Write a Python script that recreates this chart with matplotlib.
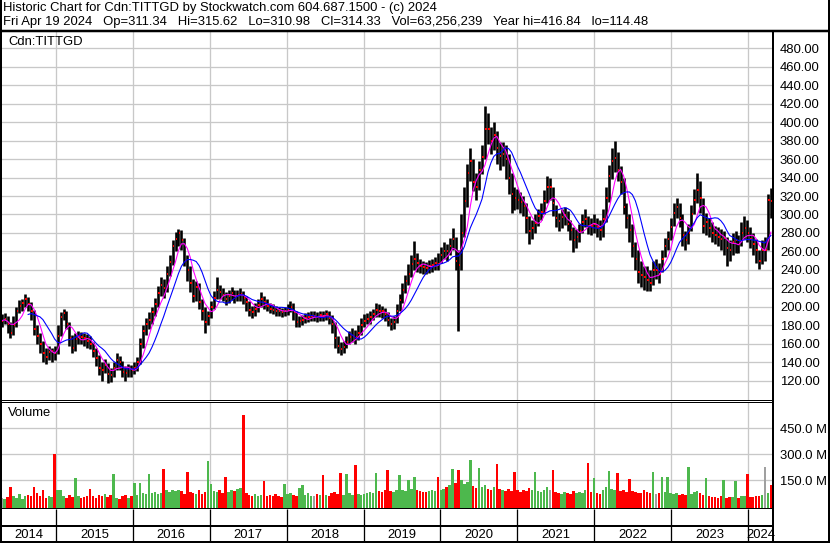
import matplotlib
matplotlib.use('Agg')
import matplotlib.pyplot as plt
import matplotlib.dates as mdates
from matplotlib.lines import Line2D
import numpy as np
import pandas as pd

plt.rcParams['font.family'] = ['Liberation Sans', 'DejaVu Sans']

# bi-weekly bars, last one ends Fri Apr 19 2024
dates = pd.date_range(end='2024-04-19', periods=262, freq='14D')

close = [185, 187, 181, 172, 180, 196, 201, 204, 209, 203,
         195, 176, 168, 160, 150, 146, 151, 152, 150, 168,
         189, 193, 182, 166, 156, 165, 168, 167, 166, 163,
         160, 152, 145, 134, 132, 137, 127, 126, 134, 142,
         140, 130, 128, 133, 132, 134, 140, 160, 174, 182,
         186, 194, 203, 215, 224, 220, 236, 249, 266, 274,
         280, 272, 250, 240, 226, 212, 222, 205, 195, 184,
         190, 200, 210, 218, 216, 213, 208, 212, 215, 211,
         213, 214, 210, 205, 197, 194, 198, 202, 209, 205,
         201, 198, 197, 196, 195, 194, 195, 197, 200, 194,
         184, 185, 186, 188, 189, 190, 190, 189, 191, 190,
         192, 188, 182, 166, 158, 154, 157, 162, 167, 169,
         167, 172, 180, 185, 187, 189, 192, 197, 196, 195,
         192, 186, 181, 184, 196, 207, 218, 228, 236, 246,
         252, 247, 244, 243, 242, 244, 245, 247, 246, 256,
         261, 260, 266, 274, 250, 245, 280, 315, 345, 358,
         335, 330, 348, 362, 393, 392, 380, 386, 372, 363,
         366, 360, 340, 322, 318, 316, 313, 309, 296, 282,
         285, 291, 298, 303, 315, 330, 330, 312, 296, 293,
         297, 299, 290, 283, 272, 276, 282, 292, 295, 288,
         287, 290, 286, 283, 295, 318, 342, 358, 361, 348,
         335, 308, 296, 283, 266, 252, 238, 234, 232, 229,
         226, 240, 240, 236, 252, 266, 273, 286, 302, 308,
         296, 278, 272, 280, 300, 316, 327, 318, 288, 292,
         285, 280, 278, 276, 273, 275, 264, 262, 270, 272,
         268, 280, 285, 280, 274, 268, 262, 250, 262, 262,
         316, 314.33]

high = [192, 193, 190, 184, 190, 200, 207, 209, 214, 211,
        205, 197, 180, 172, 163, 155, 158, 156, 158, 180,
        194, 198, 195, 184, 170, 172, 174, 173, 172, 171,
        168, 162, 155, 148, 140, 144, 139, 134, 140, 150,
        147, 141, 136, 138, 137, 140, 146, 166, 180, 188,
        194, 200, 210, 223, 232, 230, 244, 256, 272, 281,
        284, 283, 275, 256, 244, 230, 228, 226, 208, 200,
        196, 206, 217, 232, 224, 220, 216, 218, 222, 218,
        218, 220, 217, 212, 206, 201, 204, 209, 216, 212,
        208, 204, 203, 201, 200, 199, 200, 203, 206, 204,
        195, 190, 191, 193, 194, 195, 195, 194, 196, 196,
        197, 196, 191, 184, 168, 162, 163, 168, 174, 177,
        175, 180, 188, 192, 193, 196, 198, 204, 203, 201,
        199, 194, 188, 190, 203, 214, 226, 235, 246, 256,
        271, 258, 252, 250, 249, 251, 252, 254, 258, 265,
        270, 268, 275, 285, 276, 262, 300, 330, 355, 372,
        360, 345, 358, 375, 417, 410, 395, 400, 390, 378,
        378, 375, 365, 345, 330, 328, 324, 320, 312, 298,
        294, 300, 306, 312, 326, 342, 340, 330, 310, 302,
        306, 308, 304, 294, 286, 284, 290, 300, 306, 298,
        296, 300, 296, 294, 306, 330, 354, 372, 380, 368,
        352, 340, 312, 300, 290, 270, 262, 250, 244, 244,
        240, 250, 252, 248, 262, 275, 282, 296, 312, 318,
        312, 300, 282, 290, 310, 328, 345, 336, 318, 302,
        296, 292, 288, 286, 284, 282, 276, 272, 280, 282,
        278, 292, 298, 294, 286, 280, 274, 262, 272, 276,
        322, 329]

low = [178, 181, 172, 166, 170, 178, 193, 196, 200, 196,
       186, 170, 160, 150, 140, 138, 143, 140, 142, 149,
       168, 186, 176, 158, 150, 152, 160, 160, 158, 156,
       154, 146, 136, 126, 120, 128, 118, 119, 124, 132,
       132, 124, 120, 124, 124, 127, 131, 138, 156, 170,
       176, 182, 190, 200, 212, 210, 216, 233, 245, 260,
       266, 262, 244, 228, 216, 205, 206, 198, 186, 172,
       180, 188, 198, 208, 208, 206, 202, 204, 207, 204,
       206, 206, 203, 196, 190, 188, 190, 194, 200, 198,
       195, 193, 192, 190, 190, 189, 190, 191, 194, 186,
       178, 178, 180, 183, 184, 185, 185, 184, 185, 185,
       186, 182, 172, 156, 150, 148, 150, 155, 160, 162,
       160, 164, 170, 178, 181, 182, 186, 189, 189, 188,
       185, 179, 175, 176, 183, 195, 204, 215, 224, 232,
       240, 238, 237, 236, 236, 237, 238, 240, 240, 248,
       252, 250, 256, 262, 240, 174, 240, 276, 308, 336,
       325, 316, 326, 344, 360, 376, 365, 370, 355, 348,
       352, 338, 322, 302, 305, 306, 302, 298, 280, 268,
       274, 280, 288, 294, 300, 312, 316, 298, 286, 282,
       285, 289, 282, 272, 259, 264, 270, 280, 286, 279,
       278, 280, 276, 272, 276, 292, 314, 338, 346, 336,
       322, 300, 285, 270, 254, 240, 226, 222, 218, 217,
       217, 224, 230, 226, 238, 254, 262, 272, 288, 296,
       286, 266, 262, 268, 282, 300, 312, 302, 280, 278,
       276, 270, 268, 266, 262, 256, 244, 250, 256, 258,
       258, 266, 274, 270, 264, 256, 248, 241, 246, 250,
       262, 296]

# volume, millions
volume = [45, 38, 52, 111, 60, 48, 70, 42, 55, 62,
          58, 111, 72, 55, 92, 48, 60, 52, 301, 92,
          90, 55, 48, 62, 50, 163, 58, 45, 52, 60,
          98, 55, 48, 62, 58, 70, 52, 66, 185, 45,
          40, 55, 62, 48, 58, 130, 65, 130, 75, 70,
          185, 72, 80, 68, 75, 214, 90, 78, 92, 85,
          95, 88, 70, 198, 82, 75, 68, 92, 70, 78,
          260, 127, 85, 78, 90, 72, 165, 80, 95, 88,
          98, 105, 527, 72, 65, 60, 70, 58, 62, 144,
          55, 62, 58, 70, 60, 52, 127, 68, 75, 62,
          58, 102, 121, 66, 72, 60, 55, 68, 62, 179,
          65, 60, 72, 80, 70, 189, 66, 183, 72, 65,
          237, 70, 62, 68, 75, 80, 72, 193, 88, 82,
          90, 208, 85, 78, 92, 179, 95, 88, 150, 100,
          165, 92, 85, 80, 78, 88, 92, 85, 165, 95,
          100, 110, 120, 212, 130, 208, 150, 125, 140, 266,
          115, 105, 218, 110, 120, 100, 95, 110, 243, 98,
          92, 88, 100, 85, 198, 90, 82, 95, 88, 105,
          92, 194, 85, 80, 95, 110, 90, 208, 82, 75,
          70, 78, 72, 68, 85, 75, 80, 72, 95, 251,
          82, 160, 75, 70, 90, 110, 202, 98, 95, 193,
          85, 92, 78, 154, 88, 80, 75, 72, 95, 82,
          75, 194, 68, 72, 165, 80, 165, 75, 68, 72,
          65, 70, 62, 223, 70, 78, 85, 72, 66, 160,
          58, 52, 50, 48, 55, 150, 46, 50, 52, 144,
          48, 55, 58, 185, 52, 50, 60, 58, 62, 223,
          75, 121]

price_ticks = np.arange(120, 481, 20)
vol_ticks = [150, 300, 450]
years = list(range(2014, 2025))

title1 = 'Historic Chart for Cdn:TITTGD by Stockwatch.com 604.687.1500 - (c) 2024'
title2 = ('Fri Apr 19 2024   Op=311.34   Hi=315.62   Lo=310.98   Cl=314.33   '
          'Vol=63,256,239   Year hi=416.84   lo=114.48')

s = pd.Series(close, index=dates)
ma_fast = s.rolling(5, min_periods=1).mean()
ma_slow = s.rolling(10, min_periods=10).mean()
chg = s.diff().fillna(0).values
vcol = np.where(chg > 0, '#4db84d', np.where(chg < 0, '#ff0000', '#a0a0a0'))

W, H = 830, 543
PX = 0.72  # points per pixel


def box(x0, y0, x1, y1):
    return [x0 / W, 1 - y1 / H, (x1 - x0) / W, (y1 - y0) / H]


fig = plt.figure(figsize=(8.3, 5.43), dpi=100)
ax = fig.add_axes(box(1, 31, 773, 400))
axv = fig.add_axes(box(1, 402, 773, 509))
axy = fig.add_axes(box(1, 509, 773, 541))

x0 = mdates.date2num(pd.Timestamp('2014-04-15'))
x1 = mdates.date2num(pd.Timestamp('2024-04-29'))
bounds = [mdates.date2num(pd.Timestamp(f'{y}-01-01')) for y in years[1:]]
grid = '#c8c8c8'
fs = 9.4

# price panel
ax.vlines(dates, low, high, color='black', lw=2.6 * PX)
ax.hlines(close, dates + pd.Timedelta(days=1), dates + pd.Timedelta(days=8),
          color='red', lw=2 * PX)
ax.plot(dates, ma_fast, color='#ff00ff', lw=1.1 * PX)
ax.plot(dates, ma_slow, color='#0000ff', lw=1.1 * PX)
ax.set_xlim(x0, x1)
ax.set_ylim(99.2, 498.6)
ax.set_yticks(price_ticks)
ax.set_yticklabels([f'{v:.2f}' for v in price_ticks])
ax.set_xticks(bounds)
ax.tick_params(axis='x', length=0, labelbottom=False)

# volume panel
vfloor = -18
axv.bar(dates, np.array(volume) - vfloor, bottom=vfloor, width=12, color=vcol)
axv.set_xlim(x0, x1)
axv.set_ylim(vfloor, 603)
axv.set_yticks(vol_ticks)
axv.set_yticklabels([f'{v:.1f} M' for v in vol_ticks])
axv.set_xticks(bounds)
axv.tick_params(axis='x', length=0, labelbottom=False)

for a in (ax, axv):
    a.set_axisbelow(True)
    a.grid(True, color=grid, lw=1.3 * PX)
    a.yaxis.tick_right()
    a.tick_params(axis='y', length=0, pad=5, labelsize=fs)
    a.spines['left'].set_visible(False)
    a.spines['top'].set_visible(False)
    a.spines['right'].set_linewidth(2 * PX)
    a.spines['bottom'].set_linewidth(1 * PX)
axv.spines['top'].set_visible(True)
axv.spines['top'].set_linewidth(1 * PX)
axv.spines['bottom'].set_linewidth(2 * PX)

# year band
axy.set_xlim(x0, x1)
axy.set_ylim(0, 1)
axy.axhline(0.47, color='black', lw=2 * PX)
axy.vlines(bounds, 0, 1, color='black', lw=1.3 * PX)
edges = [x0] + bounds + [x1]
for y, a_, b_ in zip(years, edges[:-1], edges[1:]):
    axy.text((a_ + b_) / 2, 0.2, str(y), ha='center', va='center', fontsize=fs)
axy.set_xticks([])
axy.set_yticks([])
for sp in ('left', 'top', 'bottom'):
    axy.spines[sp].set_visible(False)
axy.spines['right'].set_linewidth(2 * PX)

# header and labels
fig.text(3 / W, 1 - 8 / H, title1, fontsize=fs, va='center', ha='left')
fig.text(3 / W, 1 - 22 / H, title2, fontsize=fs, va='center', ha='left')
fig.text(8 / W, 1 - 42 / H, 'Cdn:TITTGD', fontsize=fs, va='center', ha='left')
fig.text(8 / W, 1 - 413 / H, 'Volume', fontsize=fs, va='center', ha='left')

# outer frame and header rule
yl = 1 - 31 / H
fig.add_artist(Line2D([0, 1], [yl, yl], color='black', lw=2.5 * PX))
fig.add_artist(Line2D([1 / W, 1 / W], [0, 1], color='black', lw=2 * PX))
fig.add_artist(Line2D([828.5 / W, 828.5 / W], [0, 1], color='black', lw=2 * PX))
fig.add_artist(Line2D([0, 1], [1.5 / H, 1.5 / H], color='black', lw=2 * PX))

fig.savefig('out.png', dpi=100)
